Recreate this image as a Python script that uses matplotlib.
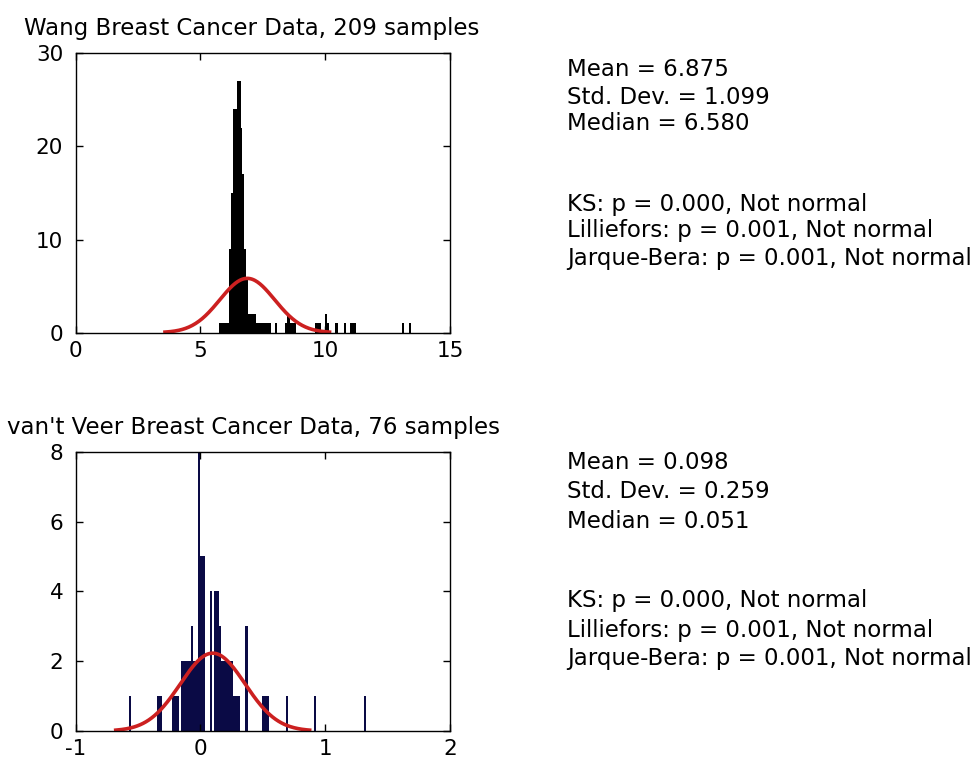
import numpy as np
import matplotlib
matplotlib.use("Agg")
import matplotlib.pyplot as plt

plt.rcParams['font.family'] = ['DejaVu Sans']
plt.rcParams['axes.unicode_minus'] = False

# ---------------- data ----------------
wang_title = "Wang Breast Cancer Data, 209 samples"
wang_n = 209
wang_mean, wang_std, wang_median = 6.875, 1.099, 6.580
wang_range = (5.76, 13.45)       # data min / max -> 100 bins
wang_counts = [0] * 100
for i, c in {0: 1, 1: 1, 2: 1, 3: 1, 4: 1, 5: 9, 6: 15, 7: 24, 8: 24, 9: 27,
             10: 27, 11: 22, 12: 17, 13: 9, 14: 6, 15: 2, 16: 2, 17: 2, 18: 2,
             19: 1, 20: 1, 21: 1, 22: 1, 23: 1, 24: 1, 25: 1, 26: 1, 29: 1,
             34: 1, 35: 2, 36: 2, 37: 1, 38: 1, 39: 1, 50: 1, 51: 1, 52: 1,
             55: 2, 56: 1, 60: 1, 61: 1, 65: 1, 68: 1, 69: 1, 70: 1,
             95: 1, 99: 1}.items():
    wang_counts[i] = c
wang_stats = ["Mean = 6.875", "Std. Dev. = 1.099", "Median = 6.580"]
wang_tests = ["KS: p = 0.000, Not normal", "Lilliefors: p = 0.001, Not normal",
              "Jarque-Bera: p = 0.001, Not normal"]

veer_title = "van't Veer Breast Cancer Data, 76 samples"
veer_n = 76
veer_mean, veer_std, veer_median = 0.098, 0.259, 0.051
veer_range = (-0.575, 1.33)
veer_counts = [0] * 100
for i, c in {0: 1, 12: 1, 13: 1, 18: 1, 19: 1, 20: 1, 22: 2, 23: 2, 24: 2, 25: 2,
             26: 3, 27: 2, 28: 2, 29: 8, 30: 5, 31: 5, 34: 4, 36: 4, 37: 4,
             38: 3, 39: 2, 40: 2, 41: 2, 42: 2, 43: 2, 44: 1, 45: 1, 46: 1,
             49: 3, 56: 1, 57: 1, 58: 1, 66: 1, 78: 1, 99: 1}.items():
    veer_counts[i] = c
veer_stats = ["Mean = 0.098", "Std. Dev. = 0.259", "Median = 0.051"]
veer_tests = ["KS: p = 0.000, Not normal", "Lilliefors: p = 0.001, Not normal",
              "Jarque-Bera: p = 0.001, Not normal"]

# ---------------- figure ----------------
W, H = 979, 763
fig = plt.figure(figsize=(W / 100, H / 100), dpi=100)
FS = 16.5
TFS = 15.5


def px_axes(l, t, r, b):
    return fig.add_axes([l / W, 1 - b / H, (r - l) / W, (b - t) / H])


def panel(ax, counts, rng, n, mu, sd, color, xlim, ylim, xticks, yticks, title, tx):
    edges = np.linspace(rng[0], rng[1], len(counts) + 1)
    w = edges[1] - edges[0]
    ax.bar(edges[:-1], counts, width=w, align='edge', color=color,
           edgecolor='none', linewidth=0)
    x = np.linspace(mu - 3 * sd, mu + 3 * sd, 200)
    y = n * w * np.exp(-0.5 * ((x - mu) / sd) ** 2) / (sd * np.sqrt(2 * np.pi))
    ax.plot(x, y, color='#cc2020', lw=2.6)
    ax.set_xlim(*xlim)
    ax.set_ylim(*ylim)
    ax.set_xticks(xticks)
    ax.set_yticks(yticks)
    ax.tick_params(direction='in', length=5, width=1, labelsize=TFS,
                   top=True, right=True)
    ax.tick_params(axis='x', pad=6)
    ax.tick_params(axis='y', pad=9)
    for s in ax.spines.values():
        s.set_linewidth(1.0)
        s.set_color('black')
    ax.set_title(title, fontsize=FS, pad=13, x=tx)


ax1 = px_axes(75.7, 53.3, 450, 332.7)
panel(ax1, wang_counts, wang_range, wang_n, wang_mean, wang_std, 'black',
      (0, 15), (0, 30), [0, 5, 10, 15], [0, 10, 20, 30], wang_title, 0.471)

ax2 = px_axes(75.7, 451.7, 450, 731)
panel(ax2, veer_counts, veer_range, veer_n, veer_mean, veer_std, '#0a0a45',
      (-1, 2), (0, 8), [-1, 0, 1, 2], [0, 2, 4, 6, 8], veer_title, 0.476)

tx = 567
for lines, ys in [(wang_stats, [70, 97, 123]), (wang_tests, [204, 231, 259]),
                  (veer_stats, [463, 492, 521]), (veer_tests, [601, 630, 659])]:
    for s, yy in zip(lines, ys):
        fig.text(tx / W, 1 - yy / H, s, fontsize=FS, ha='left', va='center')

fig.savefig("out.png", dpi=100)
